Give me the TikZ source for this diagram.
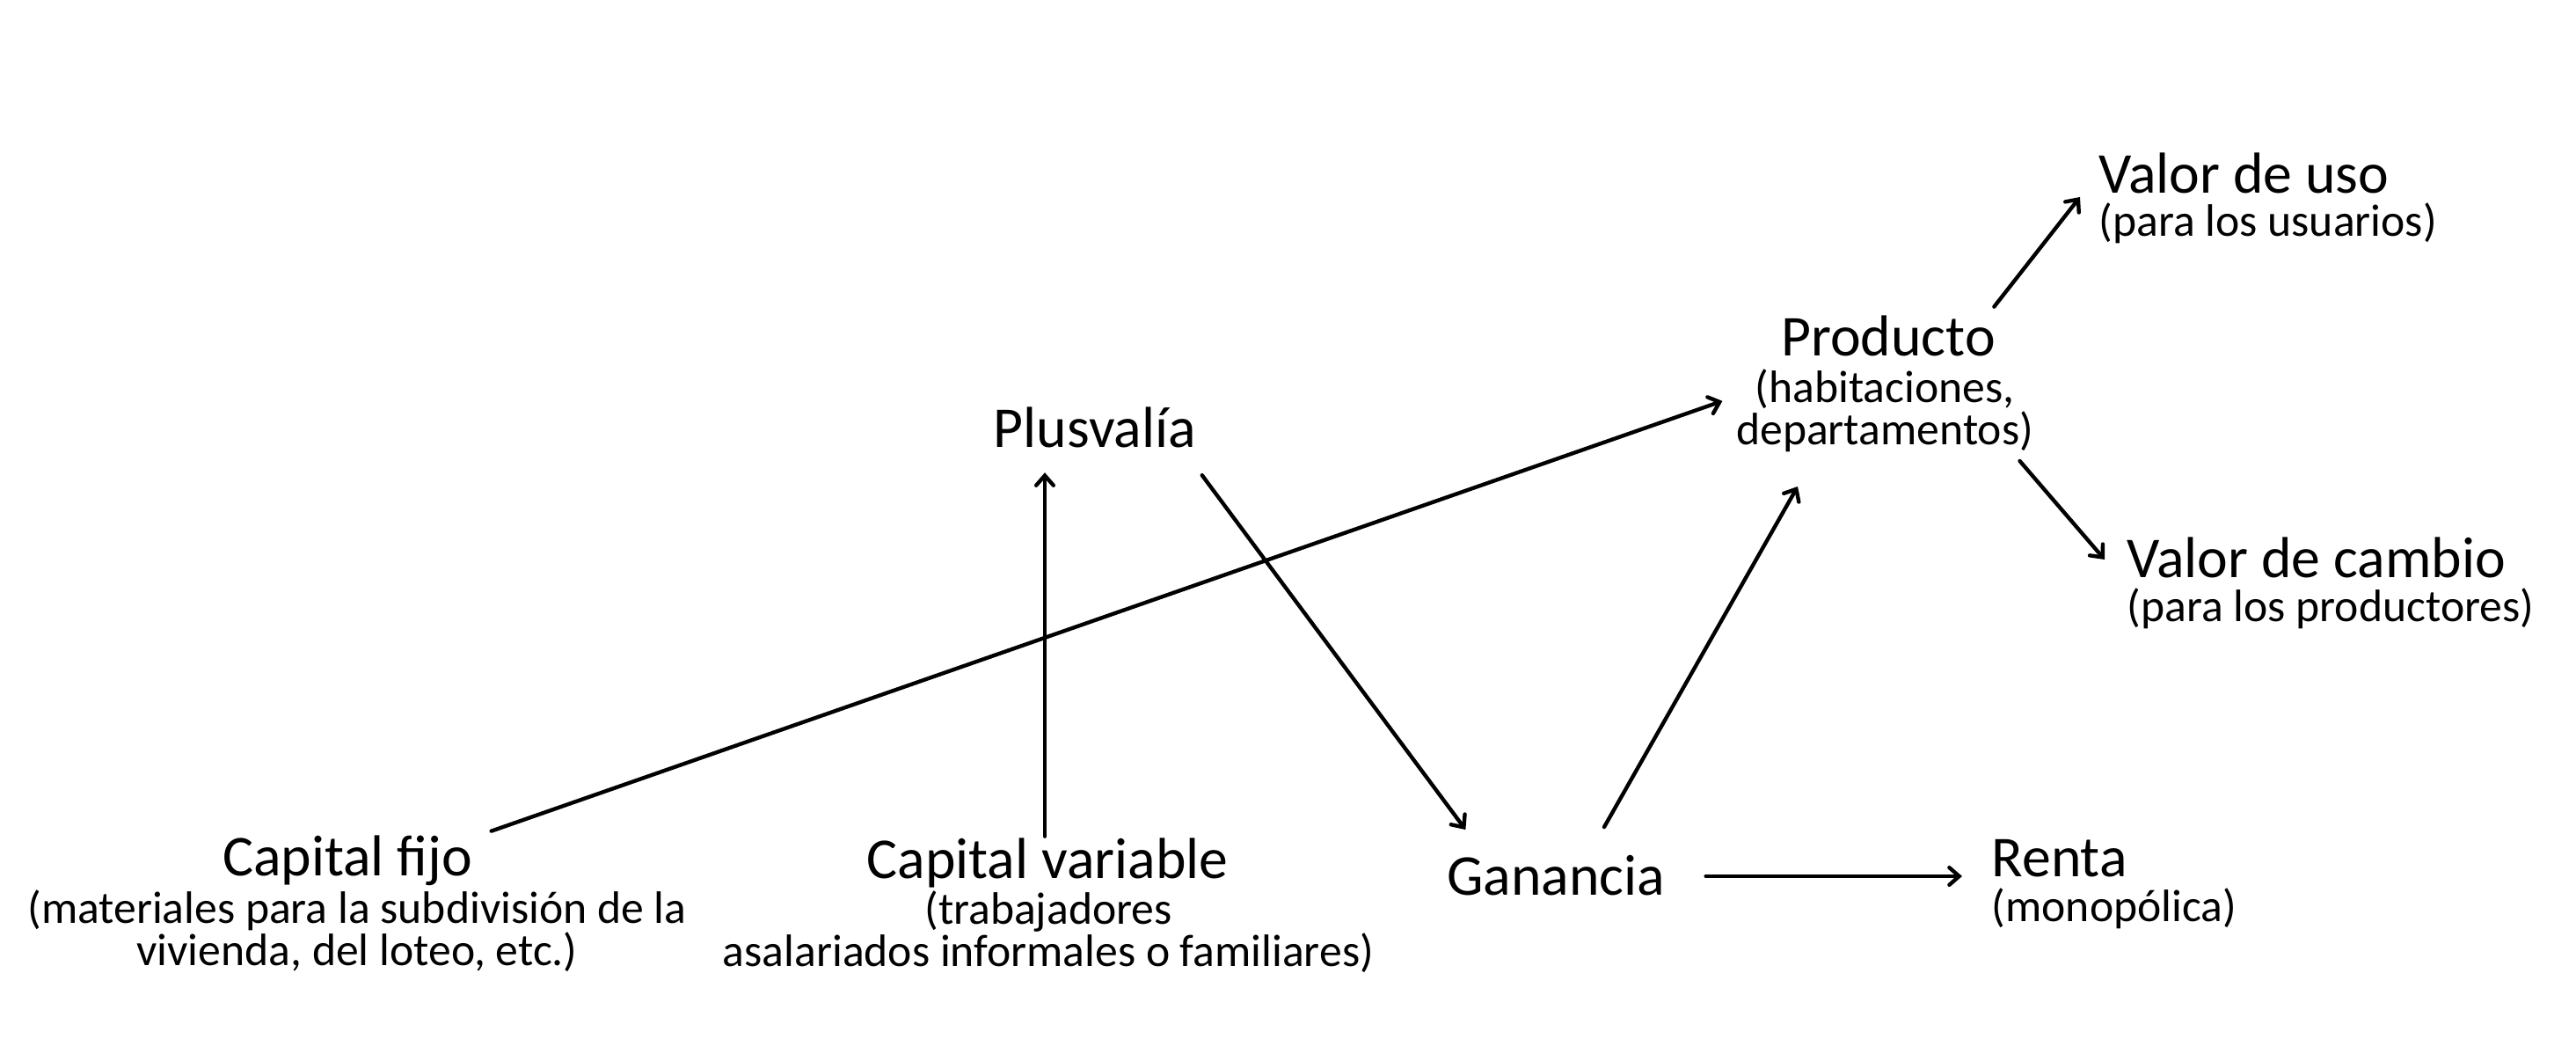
\documentclass[tikz,border=0pt]{standalone}
\usepackage{fontspec}
\setmainfont{Carlito}
\usepackage{tikz}
\usetikzlibrary{arrows,arrows.meta,positioning}
\newcommand{\titulofont}{\fontsize{18.7}{22}\selectfont}
\newcommand{\notafont}{\fontsize{14.7}{13.9}\selectfont\lineskiplimit=-10pt}

\begin{document}
\begin{tikzpicture}
            [titulo/.style={font=\titulofont, inner sep=0pt}, nota/.style={font=\notafont, align=center, inner sep=0pt},
             flecha/.style={-{Straight Barb[length=3.2pt, width=5.6pt, line cap=round]}, line width=1.25pt, line cap=round}]
            \useasboundingbox (0,0) rectangle (29.29,11.81);
            % conceptos
            \node[titulo, anchor=base] (fijo) at (3.95,1.85) {Capital fijo};
            \node[nota, anchor=base] (fijosub) at (4.06,0.83) {(materiales para la subdivisión de la\\vivienda, del loteo, etc.)};
            \node[titulo, anchor=base] (var) at (11.91,1.82) {Capital variable};
            \node[nota, anchor=base] (varsub) at (11.92,0.82) {(trabajadores\\asalariados informales o familiares)};
            \node[titulo, anchor=base] (gan) at (17.69,1.63) {Ganancia};
            \node[titulo, anchor=base west] (renta) at (22.64,1.84) {Renta};
            \node[nota, anchor=base west] (rentasub) at (22.64,1.33) {(monopólica)};
            \node[titulo, anchor=base] (plus) at (12.45,6.72) {Plusvalía};
            \node[titulo, anchor=base] (prod) at (21.47,7.76) {Producto};
            \node[nota, anchor=base] (prodsub) at (21.43,6.75) {(habitaciones,\\departamentos)};
            \node[titulo, anchor=base west] (uso) at (23.86,9.61) {Valor de uso};
            \node[nota, anchor=base west] (usosub) at (23.86,9.12) {(para los usuarios)};
            \node[titulo, anchor=base west] (cambio) at (24.18,5.24) {Valor de cambio};
            \node[nota, anchor=base west] (cambiosub) at (24.18,4.74) {(para los productores)};
            % flechas
            \draw[flecha] ([xshift=2.1mm, yshift=.5mm]fijo.north east) -- ([xshift=-1.5mm, yshift=1.1mm]prodsub.west);
            \draw[flecha] ([xshift=-.3mm, yshift=.2mm]var.north) -- ([xshift=-.3mm, yshift=-2.7mm]var.north |- plus.south);
            \draw[flecha] ([xshift=.6mm, yshift=-3mm]plus.south east) -- ([xshift=2.2mm, yshift=2.9mm]gan.north west);
            \draw[flecha] ([xshift=5.5mm, yshift=3.2mm]gan.north) -- ([xshift=-9.9mm, yshift=-3.8mm]prodsub.south);
            \draw[flecha] ([xshift=4.6mm, yshift=2.2mm]gan.base east) -- ([xshift=-3.3mm, yshift=2.2mm]gan.base east -| renta.west);
            \draw[flecha] ([xshift=-.2mm, yshift=1mm]prod.north east) -- ([xshift=-2.1mm, yshift=-.4mm]uso.base west);
            \draw[flecha] ([xshift=-1.6mm, yshift=-.9mm]prodsub.south east) -- ([xshift=-2.5mm, yshift=2.1mm]cambio.base west);
\end{tikzpicture}
\end{document}
